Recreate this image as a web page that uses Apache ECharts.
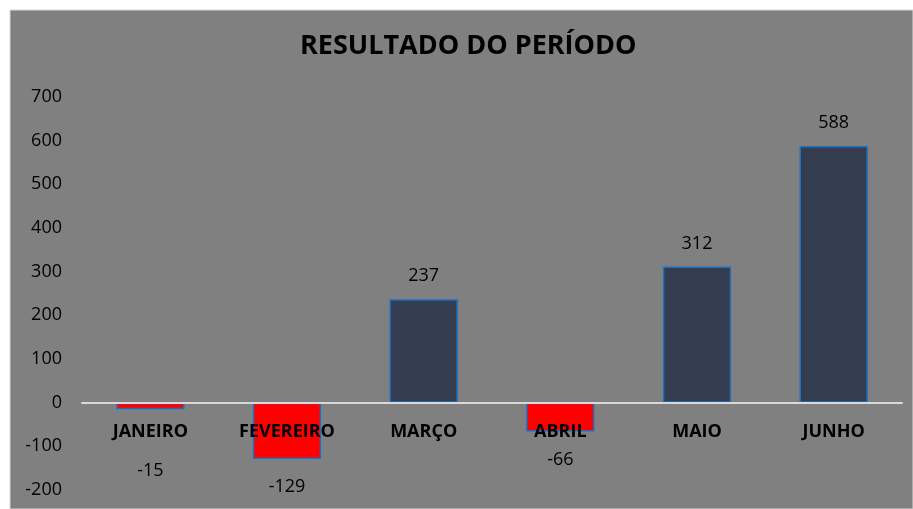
<!DOCTYPE html>
<html lang="pt-BR">
<head>
    <meta charset="UTF-8">
    <title>Resultado do Período</title>
    <script src="https://cdn.jsdelivr.net/npm/echarts@6/dist/echarts.min.js"></script>
    <style>
        html, body { margin: 0; padding: 0; background: #fff; }
        #chart { width: 913px; height: 509px; }
    </style>
</head>
<body>
<div id="chart"></div>
<script type="text/javascript">
    var meses = ['JANEIRO', 'FEVEREIRO', 'MARÇO', 'ABRIL', 'MAIO', 'JUNHO'];
    var resultado = [-15, -129, 237, -66, 312, 588];
    var yMin = -200, yMax = 700, yStep = 100;

    var fonte = '"Open Sans", "Noto Sans", sans-serif';
    var gridBottom = 19;

    var dados = resultado.map(function (v) {
        var item = {
            value: v,
            itemStyle: { color: v < 0 ? '#ff0000' : '#333d4f' }
        };
        if (v < 0) {
            // rótulo abaixo da barra; barras curtas descem abaixo do nome do mês
            item.label = { position: 'bottom', distance: Math.abs(v) < 50 ? 53 : 19 };
        }
        return item;
    });

    var myChart = echarts.init(document.getElementById('chart'));
    var option = {
        backgroundColor: '#ffffff',
        animation: false,
        graphic: [{
            type: 'rect',
            z: -10,
            shape: { x: 10, y: 10, width: 903, height: 499 },
            style: { fill: '#808080', stroke: '#d9d9d9', lineWidth: 1 }
        }],
        title: {
            text: 'RESULTADO DO PERÍODO',
            left: 300,
            top: 33,
            padding: 0,
            textStyle: { fontFamily: fonte, fontSize: 27, fontWeight: 'bold', color: '#000' }
        },
        grid: { left: 82, right: 11, top: 97, bottom: gridBottom, outerBoundsMode: 'none' },
        xAxis: {
            type: 'category',
            data: meses,
            z: 5,
            axisLine: { onZero: false, lineStyle: { color: '#d9d9d9', width: 2 } },
            axisTick: { show: false },
            axisLabel: {
                margin: 20,
                fontFamily: fonte,
                fontSize: 18,
                fontWeight: 'bold',
                color: '#000'
            }
        },
        yAxis: {
            type: 'value',
            min: yMin,
            max: yMax,
            interval: yStep,
            axisLine: { show: false },
            axisTick: { show: false },
            splitLine: { show: false },
            axisLabel: { margin: 20, fontFamily: fonte, fontSize: 18, color: '#000' }
        },
        series: [{
            type: 'bar',
            data: dados,
            barWidth: '50%',
            itemStyle: { borderColor: '#1f6fc0', borderWidth: 1.5 },
            label: {
                show: true,
                position: 'top',
                distance: 14,
                fontFamily: fonte,
                fontSize: 18,
                color: '#000'
            }
        }]
    };
    myChart.setOption(option);

    // eixo das categorias (linha e nomes) passa pelo zero, como no Excel
    var zeroY = myChart.convertToPixel({ yAxisIndex: 0 }, 0);
    var baseY = myChart.getHeight() - gridBottom;
    myChart.setOption({ xAxis: { offset: zeroY - baseY } });
</script>
</body>
</html>
